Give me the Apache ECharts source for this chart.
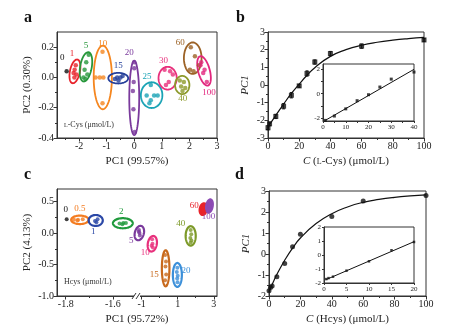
<!DOCTYPE html>
<html><head><meta charset="utf-8">
<script src="https://cdn.jsdelivr.net/npm/echarts@6/dist/echarts.min.js"></script>
<style>html,body{margin:0;padding:0;background:#fff}#c{width:469px;height:333px}</style>
</head><body><div id="c"></div>
<script>
const FONT = '"Liberation Serif", "DejaVu Serif", serif';

// ---------- Panel a : L-Cys PCA ----------
const aNames = ['0','1','5','10','15','20','25','30','40','60','100'];
const aCx = [-2.45,-2.15,-1.75,-1.14,-0.58,0.0,0.63,1.21,1.74,2.12,2.53];
const aCy = [0.04,0.04,0.07,0.0,-0.005,-0.135,-0.117,-0.005,-0.05,0.127,0.043];
const aRx = [0,0.18,0.21,0.33,0.36,0.18,0.39,0.33,0.26,0.32,0.21];
const aRy = [0,0.08,0.098,0.21,0.035,0.246,0.085,0.075,0.06,0.104,0.1];
const aPts = [
 [[-2.45,0.04]],
 [[-2.12,0.08],[-2.16,0.05],[-2.2,0.03],[-2.1,0.02],[-2.17,0.0]],
 [[-1.65,0.15],[-1.74,0.1],[-1.8,0.05],[-1.7,0.02],[-1.84,0.0],[-1.77,-0.01]],
 [[-1.15,0.17],[-1.4,0.0],[-1.25,0.0],[-1.12,0.0],[-1.15,-0.17]],
 [[-0.7,-0.01],[-0.57,-0.02],[-0.5,0.0],[-0.42,0.01],[-0.62,0.0]],
 [[0.0,0.1],[0.0,0.06],[-0.02,-0.03],[-0.05,-0.09],[-0.03,-0.21],[0.02,-0.36]],
 [[0.6,-0.05],[0.45,-0.12],[0.6,-0.15],[0.72,-0.12],[0.85,-0.12],[0.55,-0.17]],
 [[1.1,0.05],[1.3,0.04],[1.4,0.02],[1.25,-0.03],[1.15,-0.05]],
 [[1.65,-0.02],[1.8,-0.03],[1.7,-0.06],[1.85,-0.07],[1.75,-0.09]],
 [[2.05,0.2],[2.2,0.14],[2.35,0.08],[2.02,0.05],[2.15,0.04]],
 [[2.43,0.1],[2.55,0.05],[2.5,0.03],[2.63,-0.03],[2.4,0.08]]
];
const aXTicks = [-2,-1,0,1,2,3];
const aYTicks = [-0.4,-0.2,0,0.2];

// ---------- Panel b : L-Cys calibration ----------
const bX = [0,1,5,10,15,20,25,30,40,60,100];
const bY = [-2.42,-2.2,-1.78,-1.2,-0.58,-0.05,0.65,1.3,1.78,2.2,2.55];
const bErr = [0.12,0.1,0.12,0.15,0.15,0.08,0.15,0.12,0.12,0.12,0.08];
const bCurveX = [0,1,5,10,15,20,25,30,40,50,60,70,80,90,100];
const bCurveY = [-2.45,-2.25,-1.72,-1.08,-0.48,0.05,0.55,0.98,1.62,2.0,2.25,2.42,2.54,2.63,2.7];
const biX = [1,5,10,15,20,25,30,40];
const biY = [-2.15,-1.8,-1.22,-0.56,-0.08,0.54,1.18,1.75];
const biLineX = [1,40];
const biLineY = [-2.15,1.97];

// ---------- Panel c : Hcys PCA ----------
const cNames = ['0','0.5','1','2','5','10','15','20','40','60','100'];
const cCx = [-1.796,-1.74,-1.673,-1.558,-1.13,-0.41,0.33,0.98,1.72,2.42,2.76];
const cCy = [0.22,0.21,0.2,0.156,0.0,-0.17,-0.56,-0.665,-0.045,0.38,0.43];
const cRx = [0,0.037,0.03,0.042,0.25,0.25,0.21,0.25,0.28,0.2,0.18];
const cRy = [0,0.067,0.087,0.08,0.117,0.125,0.286,0.19,0.154,0.093,0.106];
const cPts = [
 [[-1.796,0.22]],
 [[-1.765,0.21],[-1.748,0.21],[-1.728,0.22],[-1.75,0.2]],
 [[-1.665,0.22],[-1.676,0.19],[-1.67,0.17]],
 [[-1.572,0.15],[-1.556,0.16],[-1.545,0.16],[-1.56,0.14]],
 [[-1.15,0.05],[-1.12,0.0],[-1.1,-0.04],[-1.16,0.02]],
 [[-0.42,-0.1],[-0.4,-0.17],[-0.45,-0.2],[-0.38,-0.23]],
 [[0.3,-0.35],[0.35,-0.45],[0.32,-0.53],[0.36,-0.66],[0.3,-0.75]],
 [[0.98,-0.55],[0.95,-0.62],[1.0,-0.68],[0.97,-0.72],[0.99,-0.78]],
 [[1.72,0.05],[1.75,-0.02],[1.7,-0.08],[1.76,-0.12],[1.72,-0.15]],
 [[2.4,0.4],[2.43,0.36],[2.42,0.32]],
 [[2.75,0.45],[2.77,0.42],[2.76,0.38]]
];
const cXTicks = [-1.8,-1.6,-1,1,3];
const cXMinor = [-1.7,0,2];
const cYTicks = [-1,-0.5,0,0.5];

// ---------- Panel d : Hcys calibration ----------
const dX = [0,1,2,5,10,15,20,40,60,100];
const dY = [-1.75,-1.6,-1.52,-1.08,-0.45,0.34,0.94,1.79,2.52,2.79];
const dCurveX = [0,2,5,10,15,20,30,40,50,60,70,80,90,100];
const dCurveY = [-1.8,-1.45,-0.98,-0.3,0.28,0.76,1.45,1.92,2.24,2.46,2.6,2.7,2.77,2.82];
const diX = [0.5,1,2,5,10,15,20];
const diY = [-1.72,-1.65,-1.55,-1.12,-0.45,0.34,0.93];
const diLineX = [0.5,20];
const diLineY = [-1.75,0.95];

// ---------- styles ----------
const aCol = ['#111','#e8232b','#27973b','#f5861f','#26409a','#7a3a9c','#1aa3b5','#e8307c','#8d9a2b','#9c6226','#e2277e'];
const aRot = [0,12,10,0,0,0,0,0,0,0,-15];
const aOff = [[-4.5,-14],[-3,-18],[0,-21],[0,-34],[0,-12.5],[-5,-45],[-4.5,-19],[-4,-18],[0.5,14],[-12.5,-16],[5,22]];
const cCol = ['#111','#f47c20','#2a47a6','#1f9a3c','#7a3a9c','#e8307c','#c8691c','#3b8fd9','#7d9a29','#e8232b','#8c4bb4'];
const cRot = [0,0,0,0,15,10,0,0,0,10,10];
const cOff = [[-1,-10],[0,-11],[-2.5,11.5],[-1.5,-11.5],[-8,8],[-7,9],[-11.5,6.7],[8.7,-4],[-10,-12],[-9,-4],[-1,11]];
const cFill = [false,false,false,false,false,false,false,false,false,true,true];

// broken-axis mapping for panel c (two linear segments, each half of the axis)
function cU(x){ return x < -1.4 ? (x + 1.837) / 0.339 : 1 + (x + 1.26) / 4.44; }

function ellRender(cols, rots, names, offs, fills, lw, fs){
  return function(params, api){
    const i = params.dataIndex;
    const cx = api.value(0), cy = api.value(1), rx = api.value(2), ry = api.value(3);
    const c = api.coord([cx, cy]);
    const children = [];
    if (rx > 0) {
      const px = Math.abs(api.coord([cx + rx, cy])[0] - c[0]);
      const py = Math.abs(api.coord([cx, cy + ry])[1] - c[1]);
      const r = rots[i] * Math.PI / 180, pts = [];
      for (let k = 0; k < 72; k++) {
        const t = k / 72 * 2 * Math.PI, ex = px * Math.cos(t), ey = py * Math.sin(t);
        pts.push([c[0] + ex * Math.cos(r) - ey * Math.sin(r), c[1] + ex * Math.sin(r) + ey * Math.cos(r)]);
      }
      children.push({type:'polygon', shape:{points:pts}, style:{fill: (fills && fills[i]) ? cols[i] : 'none', stroke: cols[i], lineWidth: lw}});
    }
    children.push({type:'text', x: c[0] + offs[i][0], y: c[1] + offs[i][1],
      style:{text: names[i], fill: cols[i], font: fs + 'px ' + FONT, align:'center', verticalAlign:'middle'}});
    return {type:'group', children};
  };
}

function errRender(params, api){
  const x = api.value(0), y = api.value(1), e = api.value(2);
  const p1 = api.coord([x, y - e]), p2 = api.coord([x, y + e]);
  const st = {stroke:'#111', lineWidth:1};
  return {type:'group', children:[
    {type:'line', shape:{x1:p1[0], y1:p1[1], x2:p2[0], y2:p2[1]}, style:st},
    {type:'line', shape:{x1:p1[0]-1.5, y1:p1[1], x2:p1[0]+1.5, y2:p1[1]}, style:st},
    {type:'line', shape:{x1:p2[0]-1.5, y1:p2[1], x2:p2[0]+1.5, y2:p2[1]}, style:st}
  ]};
}

const AX = '#333';
function axisPair(dim, g, min, max, majors, minors, fmt, fs, extra){
  const pos = dim === 'x' ? 'bottom' : 'left';
  const major = Object.assign({
    type:'value', gridIndex:g, min:min, max:max, position:pos,
    axisLine:{show:true, onZero:false, lineStyle:{color:AX, width:1}},
    axisTick:{show:true, inside:false, length:3.5, customValues:majors, lineStyle:{color:AX}},
    axisLabel:{show:true, customValues:majors, formatter:fmt, fontFamily:FONT, fontSize:fs, color:'#222', margin:3},
    splitLine:{show:false}
  }, extra || {});
  const minor = {
    type:'value', gridIndex:g, min:min, max:max, position:pos,
    axisLine:{show:false, onZero:false}, axisLabel:{show:false}, splitLine:{show:false},
    axisTick:{show:minors.length>0, inside:false, length:2, customValues:minors.length ? minors : [min], lineStyle:{color:AX}}
  };
  return [major, minor];
}
const f1 = v => (Math.abs(v) < 1e-9 ? 0 : v).toFixed(1);
const f0 = v => String(Math.round(v));
const NFS = 11;
const nameStyle = {fontFamily:FONT, fontSize:NFS, color:'#222'};
const italicName = {fontFamily:FONT, fontSize:NFS, fontStyle:'italic', color:'#222'};
const richX = {fontFamily:FONT, fontSize:NFS, color:'#222', rich:{
  i:{fontFamily:FONT, fontSize:NFS, fontStyle:'italic', color:'#222'},
  s:{fontFamily:FONT, fontSize:8, color:'#222'}}};
const smallTick = v => ({axisLine:{show:true,onZero:false,lineStyle:{color:AX,width:1}}, axisTick:{show:true,inside:false,length:2,customValues:v,lineStyle:{color:AX}}});

const xAxes = [], yAxes = [];
// grid 0 : a
xAxes.push(...axisPair('x', 0, -2.8, 3, aXTicks, [-2.5,-1.5,-0.5,0.5,1.5,2.5], f0, 10,
  {name:'PC1 (99.57%)', nameLocation:'middle', nameGap:18, nameTextStyle:nameStyle}));
yAxes.push(...axisPair('y', 0, -0.4, 0.3, aYTicks, [-0.3,-0.1,0.1], f1, 10,
  {name:'PC2 (0.30%)', nameLocation:'middle', nameGap:24, nameTextStyle:nameStyle}));
// grid 1 : b
xAxes.push(...axisPair('x', 1, 0, 100, [0,20,40,60,80,100], [10,30,50,70,90], f0, 10,
  {name:'{i|C} ({s|L}-Cys) (μmol/L)', nameLocation:'middle', nameGap:18, nameTextStyle:richX}));
yAxes.push(...axisPair('y', 1, -3, 3, [-3,-2,-1,0,1,2,3], [-2.5,-1.5,-0.5,0.5,1.5,2.5], f0, 10,
  {name:'PC1', nameLocation:'middle', nameGap:17, nameTextStyle:italicName}));
// grid 2 : b inset
xAxes.push(...axisPair('x', 2, 0, 40, [0,10,20,30,40], [5,15,25,35], f0, 7, smallTick([0,10,20,30,40])));
yAxes.push(...axisPair('y', 2, -2.2, 2.4, [-2,0,2], [-1,1], f0, 7, smallTick([-2,0,2])));
// grid 3 : c (broken x axis)
xAxes.push(...axisPair('x', 3, 0, 2, cXTicks.map(cU), cXMinor.map(cU), v => {
    let best = cXTicks[0], bd = 1e9;
    cXTicks.forEach(t => { const d = Math.abs(cU(t) - v); if (d < bd) { bd = d; best = t; } });
    return String(best);
  }, 10, {name:'PC1 (95.72%)', nameLocation:'middle', nameGap:18, nameTextStyle:nameStyle}));
yAxes.push(...axisPair('y', 3, -1, 0.7, cYTicks, [-0.75,-0.25,0.25], f1, 10,
  {name:'PC2 (4.13%)', nameLocation:'middle', nameGap:24, nameTextStyle:nameStyle}));
// grid 4 : d
xAxes.push(...axisPair('x', 4, 0, 100, [0,20,40,60,80,100], [10,30,50,70,90], f0, 10,
  {name:'{i|C} (Hcys) (μmol/L)', nameLocation:'middle', nameGap:18, nameTextStyle:richX}));
yAxes.push(...axisPair('y', 4, -2, 3, [-2,-1,0,1,2,3], [-1.5,-0.5,0.5,1.5,2.5], f0, 10,
  {name:'PC1', nameLocation:'middle', nameGap:17, nameTextStyle:italicName}));
// grid 5 : d inset
xAxes.push(...axisPair('x', 5, 0, 20, [0,5,10,15,20], [], f0, 7, smallTick([0,5,10,15,20])));
yAxes.push(...axisPair('y', 5, -2, 2, [-2,-1,0,1,2], [], f0, 7, smallTick([-2,-1,0,1,2])));

const gridBase = {show:true, borderColor:AX, borderWidth:1, containLabel:false};
const grids = [
  {left:57, top:32, width:160, height:106},
  {left:268, top:32, width:156, height:106},
  {left:323, top:64, width:91, height:57, backgroundColor:'#fff'},
  {left:57, top:189, width:160, height:107},
  {left:269, top:191, width:157, height:105},
  {left:324, top:227, width:90, height:56, backgroundColor:'#fff'}
].map(g => Object.assign({}, gridBase, g));

const series = [];
const ax = g => ({xAxisIndex: 2*g, yAxisIndex: 2*g});

// panel a
series.push(Object.assign({type:'custom', z:2, renderItem: ellRender(aCol, aRot, aNames, aOff, null, 1.8, 9),
  encode:{x:0, y:1}, data: aCx.map((x,i) => [x, aCy[i], aRx[i], aRy[i]]), silent:true}, ax(0)));
aPts.forEach((pts, i) => series.push(Object.assign({type:'scatter', z:3, symbolSize:4.5,
  itemStyle:{color:aCol[i]}, data:pts, silent:true}, ax(0))));

// panel b
series.push(Object.assign({type:'line', z:2, data: bCurveX.map((x,i)=>[x,bCurveY[i]]), smooth:true, showSymbol:false,
  lineStyle:{color:'#111', width:1.2}, silent:true}, ax(1)));
series.push(Object.assign({type:'custom', z:3, renderItem: errRender, encode:{x:0,y:1},
  data: bX.map((x,i)=>[x,bY[i],bErr[i]]), silent:true}, ax(1)));
series.push(Object.assign({type:'scatter', z:4, symbol:'rect', symbolSize:5, itemStyle:{color:'#111'},
  data: bX.map((x,i)=>[x,bY[i]]), silent:true}, ax(1)));
series.push(Object.assign({type:'line', z:2, data: biLineX.map((x,i)=>[x,biLineY[i]]), showSymbol:false,
  lineStyle:{color:'#111', width:1}, silent:true}, ax(2)));
series.push(Object.assign({type:'scatter', z:3, symbol:'rect', symbolSize:3, itemStyle:{color:'#111'},
  data: biX.map((x,i)=>[x,biY[i]]), silent:true}, ax(2)));

// panel c
series.push(Object.assign({type:'custom', z:2, renderItem: ellRender(cCol, cRot, cNames, cOff, cFill, 2.2, 9),
  encode:{x:0, y:1}, data: cCx.map((x,i) => [cU(x), cCy[i], cU(x + cRx[i]) - cU(x), cRy[i]]), silent:true}, ax(3)));
cPts.forEach((pts, i) => series.push(Object.assign({type:'scatter', z:3, symbolSize:4,
  itemStyle:{color:cCol[i]}, data:pts.map(p => [cU(p[0]), p[1]]), silent:true}, ax(3))));

// panel d
series.push(Object.assign({type:'line', z:2, data: dCurveX.map((x,i)=>[x,dCurveY[i]]), smooth:true, showSymbol:false,
  lineStyle:{color:'#111', width:1.2}, silent:true}, ax(4)));
series.push(Object.assign({type:'scatter', z:4, symbolSize:5, itemStyle:{color:'#111'},
  data: dX.map((x,i)=>[x,dY[i]]), silent:true}, ax(4)));
series.push(Object.assign({type:'line', z:2, data: diLineX.map((x,i)=>[x,diLineY[i]]), showSymbol:false,
  lineStyle:{color:'#111', width:1}, silent:true}, ax(5)));
series.push(Object.assign({type:'scatter', z:3, symbol:'rect', symbolSize:2.5, itemStyle:{color:'#111'},
  data: diX.map((x,i)=>[x,diY[i]]), silent:true}, ax(5)));

const letter = (t, x, y) => ({type:'text', left:x, top:y, style:{text:t, font:'bold 16px ' + FONT, fill:'#111'}});
const note = (t, x, y) => ({type:'text', left:x, top:y, style:{text:t, font:'8px ' + FONT, fill:'#333'}});
const baseGraphics = () => [
  letter('a', 24, 10), letter('b', 236, 10), letter('c', 24, 167), letter('d', 235, 167),
  {type:'text', left:64, top:121, style:{text:'{s|L}-Cys (μmol/L)', font:'8px ' + FONT, fill:'#333',
    rich:{s:{fontSize:6, fontFamily:FONT, fill:'#333'}}}},
  note('Hcys (μmol/L)', 64, 278)
];

const chart = echarts.init(document.getElementById('c'));
chart.setOption({
  animation:false,
  backgroundColor:'#fff',
  grid: grids, xAxis: xAxes, yAxis: yAxes, series: series,
  graphic: baseGraphics()
});
// axis break mark on panel c
const bx = chart.convertToPixel({xAxisIndex:6}, 1);
const by = chart.convertToPixel({yAxisIndex:6}, -1);
chart.setOption({graphic: baseGraphics().concat([
  {type:'rect', shape:{x:bx-3, y:by-2, width:6, height:4}, style:{fill:'#fff'}, z:100},
  {type:'line', shape:{x1:bx-5, y1:by+3, x2:bx-1, y2:by-3}, style:{stroke:'#333', lineWidth:1}, z:101},
  {type:'line', shape:{x1:bx-1, y1:by+3, x2:bx+3, y2:by-3}, style:{stroke:'#333', lineWidth:1}, z:101}
])}, {replaceMerge:['graphic']});
</script>
</body></html>
